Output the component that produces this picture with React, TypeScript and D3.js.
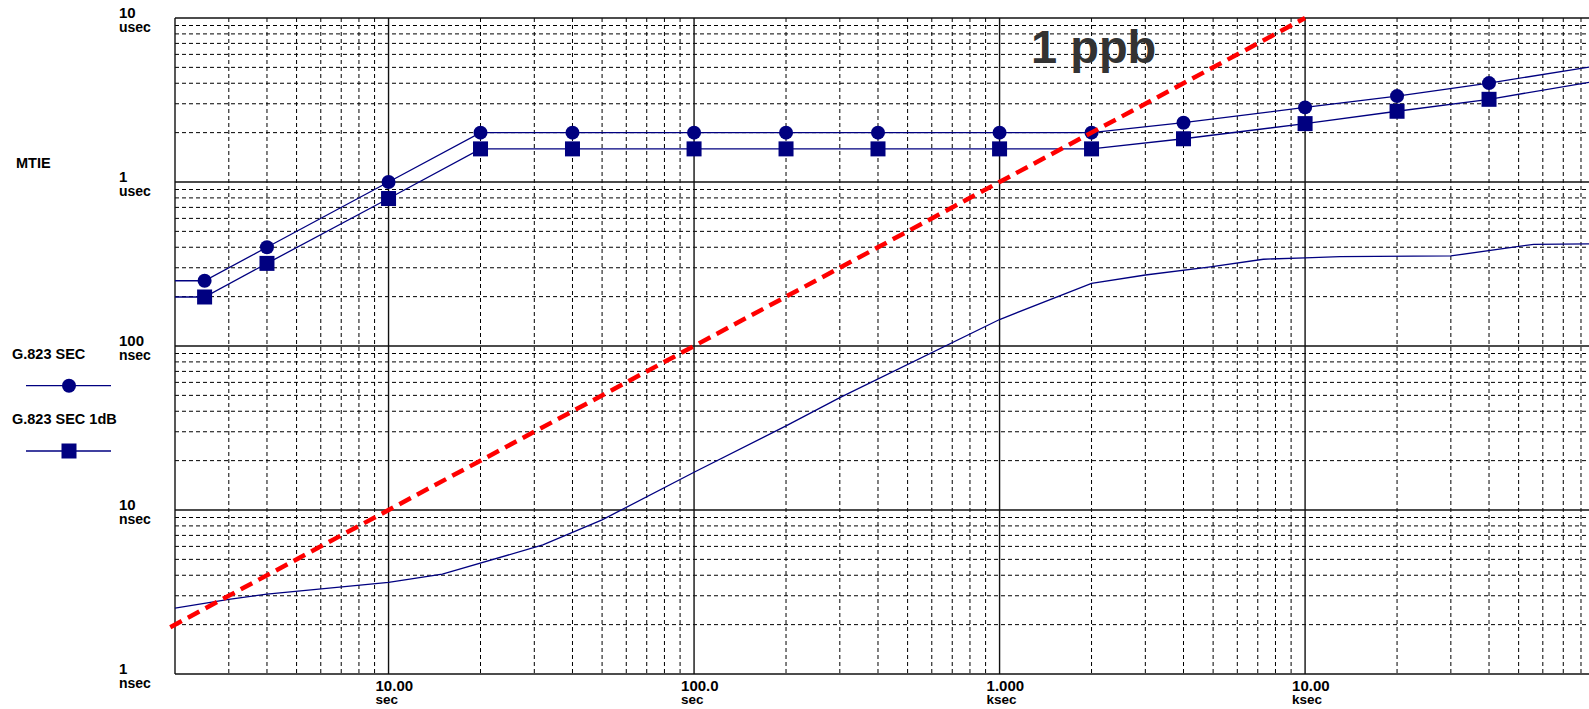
import React from "react";
import * as d3 from "d3";

// ---- data (tau in seconds, MTIE in ns) ----
const maskTau = [2, 2.5, 4, 10, 20, 40, 100, 200, 400, 1000, 2000, 4000, 10000, 20000, 40000, 86400];
const secValues = [250, 250, 400, 1000, 2000, 2000, 2000, 2000, 2000, 2000, 2000, 2300, 2850, 3340, 4010, 5040];
const sec1dBValues = [199, 199, 319, 793, 1592, 1592, 1592, 1592, 1592, 1592, 1592, 1835, 2270, 2700, 3193, 4074];
const markerTau = [2.5, 4, 10, 20, 40, 100, 200, 400, 1000, 2000, 4000, 10000, 20000, 40000];

const measTau = [2, 3, 4, 10, 15, 32, 50, 100, 200, 300, 1000, 2000, 3000, 4900, 7300, 10000, 13000, 30000, 56000, 86400];
const measValues = [2.52, 2.85, 3.07, 3.62, 4.07, 6.12, 8.7, 17.0, 32.6, 48.4, 145, 241, 271, 304, 338, 345, 351, 354, 417, 419];

const ppbTau = [1.93, 10000];
const ppbValues = [1.93, 10000]; // 1 ppb: MTIE(ns) = tau(s)

const yTicks = [1, 10, 100, 1000, 10000];
const yTickNums = ["1", "10", "100", "1", "10"];
const yTickUnits = ["nsec", "nsec", "nsec", "usec", "usec"];
const xTicks = [10, 100, 1000, 10000];
const xTickNums = ["10.00", "100.0", "1.000", "10.00"];
const xTickUnits = ["sec", "sec", "ksec", "ksec"];

const legendNames = ["G.823 SEC", "G.823 SEC 1dB"];

export default function App() {
  const W = 1589, H = 709;
  const left = 175, top = 18, bottom = 674;
  const xDomain: [number, number] = [2, 100000];
  const x = d3.scaleLog().domain(xDomain).range([left, 1610.6]);
  const y = d3.scaleLog().domain([1, 10000]).range([bottom, top]);
  const right = W;

  const minorX: number[] = [];
  const minorY: number[] = [];
  for (let d = 1; d <= 100000; d *= 10) {
    for (let k = 2; k <= 9; k++) {
      const v = k * d;
      if (v > xDomain[0] && v < xDomain[1] && x(v) < right) minorX.push(v);
      if (v > 1 && v < 10000) minorY.push(v);
    }
  }

  const line = d3
    .line<[number, number]>()
    .x((d) => x(d[0]))
    .y((d) => y(d[1]));

  const secPts = maskTau.map((t, i) => [t, secValues[i]] as [number, number]);
  const sec1Pts = maskTau.map((t, i) => [t, sec1dBValues[i]] as [number, number]);
  const measPts = measTau.map((t, i) => [t, measValues[i]] as [number, number]);
  const ppbPts = ppbTau.map((t, i) => [t, ppbValues[i]] as [number, number]);

  const valAt = (taus: number[], vals: number[], t: number) => vals[taus.indexOf(t)];

  const navy = "#000080";
  const font = "'Liberation Sans', Arial, sans-serif";

  return (
    <svg
      width={W}
      height={H}
      style={{ position: "absolute", left: 0, top: 0, background: "#fff" }}
      fontFamily={font}
    >
      <rect x={0} y={0} width={W} height={H} fill="#fff" />
      <defs>
        <clipPath id="plot">
          <rect x={left} y={top} width={right - left} height={bottom - top} />
        </clipPath>
      </defs>

      {/* minor grid */}
      <g stroke="#000" strokeWidth={1} strokeDasharray="4,3" fill="none">
        {minorX.map((v) => (
          <line key={"mx" + v} x1={x(v)} x2={x(v)} y1={top} y2={bottom} />
        ))}
        {minorY.map((v) => (
          <line key={"my" + v} x1={left} x2={right} y1={y(v)} y2={y(v)} />
        ))}
      </g>
      {/* major grid */}
      <g stroke="#111" strokeWidth={1.4} fill="none">
        {xTicks.map((v) => (
          <line key={"Mx" + v} x1={x(v)} x2={x(v)} y1={top} y2={bottom} />
        ))}
        {yTicks.map((v) => (
          <line key={"My" + v} x1={left} x2={right} y1={y(v)} y2={y(v)} />
        ))}
        <line x1={left} x2={left} y1={top} y2={bottom} />
      </g>

      {/* series */}
      <g clipPath="url(#plot)" fill="none" stroke={navy} strokeWidth={1.3}>
        <path d={line(secPts) || ""} />
        <path d={line(sec1Pts) || ""} />
        <path d={line(measPts) || ""} />
      </g>
      <g fill={navy}>
        {markerTau.map((t) => (
          <circle key={"c" + t} cx={x(t)} cy={y(valAt(maskTau, secValues, t))} r={7} />
        ))}
        {markerTau.map((t) => (
          <rect
            key={"s" + t}
            x={x(t) - 7.5}
            y={y(valAt(maskTau, sec1dBValues, t)) - 7.5}
            width={15}
            height={15}
          />
        ))}
      </g>

      {/* 1 ppb */}
      <path
        d={line(ppbPts) || ""}
        fill="none"
        stroke="#ff0000"
        strokeWidth={4.5}
        strokeDasharray="13,7"
      />
      <text x={1031} y={63} fontSize={47} fontWeight="bold" fill="#333">
        1 ppb
      </text>

      {/* y labels */}
      <g fontWeight="bold" fill="#000">
        {yTicks.map((v, i) => (
          <g key={"yl" + v}>
            <text x={119} y={y(v)} fontSize={15}>
              {yTickNums[i]}
            </text>
            <text x={119} y={y(v) + 13.5} fontSize={14}>
              {yTickUnits[i]}
            </text>
          </g>
        ))}
        {xTicks.map((v, i) => (
          <g key={"xl" + v}>
            <text x={x(v) - 13} y={bottom + 16.5} fontSize={15}>
              {xTickNums[i]}
            </text>
            <text x={x(v) - 13} y={bottom + 30} fontSize={13.5}>
              {xTickUnits[i]}
            </text>
          </g>
        ))}
        <text x={16} y={168} fontSize={14.5}>
          MTIE
        </text>
      </g>

      {/* legend */}
      <g fontWeight="bold" fontSize={14.5}>
        <text x={12} y={359}>{legendNames[0]}</text>
        <line x1={26} x2={111} y1={385.7} y2={385.7} stroke={navy} strokeWidth={1.3} />
        <circle cx={69} cy={385.7} r={7} fill={navy} />
        <text x={12} y={424}>{legendNames[1]}</text>
        <line x1={26} x2={111} y1={451} y2={451} stroke={navy} strokeWidth={1.3} />
        <rect x={61.5} y={443.5} width={15} height={15} fill={navy} />
      </g>
    </svg>
  );
}
